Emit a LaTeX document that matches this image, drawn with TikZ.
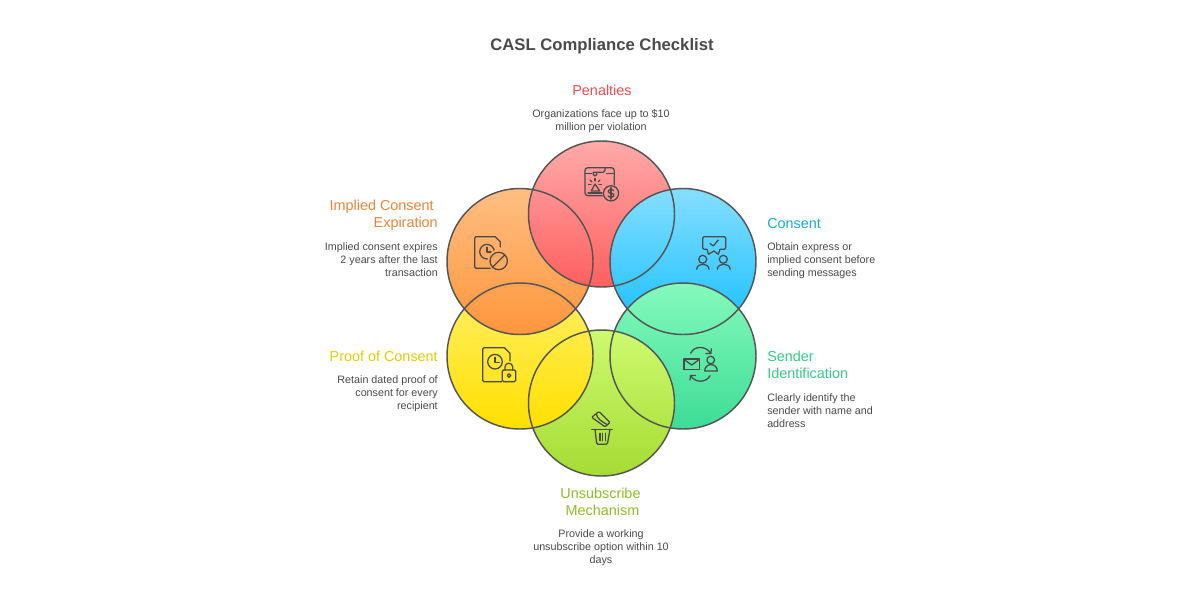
\documentclass[tikz,border=0pt]{standalone}
\usepackage{fontspec}
\setmainfont{Liberation Sans}
\definecolor{ink}{HTML}{4A4A4A}
\definecolor{ring}{HTML}{555555}
\definecolor{hPen}{HTML}{F24D4D}
\definecolor{hCon}{HTML}{1AA9DD}
\definecolor{hSen}{HTML}{33CC88}
\definecolor{hUns}{HTML}{8FBF26}
\definecolor{hPro}{HTML}{E6CC00}
\definecolor{hImp}{HTML}{EC8436}
\tikzset{
  x=0.75pt,y=-0.75pt,
  gPen/.style={top color={rgb,255:red,255;green,170;blue,170},bottom color={rgb,255:red,255;green,95;blue,95}},
  gCon/.style={top color={rgb,255:red,133;green,222;blue,255},bottom color={rgb,255:red,20;green,190;blue,255}},
  gSen/.style={top color={rgb,255:red,133;green,250;blue,188},bottom color={rgb,255:red,60;green,220;blue,150}},
  gUns/.style={top color={rgb,255:red,205;green,250;blue,112},bottom color={rgb,255:red,165;green,220;blue,50}},
  gPro/.style={top color={rgb,255:red,255;green,240;blue,105},bottom color={rgb,255:red,255;green,224;blue,0}},
  gImp/.style={top color={rgb,255:red,255;green,190;blue,130},bottom color={rgb,255:red,255;green,150;blue,60}},
  ringnode/.style={circle,draw=ring,line width=1.1pt,minimum size=109.5pt,inner sep=0pt,fill=none},
  titletext/.style={font=\fontsize{12.5}{15}\selectfont\bfseries,text=ink},
  headtext/.style={font=\fontsize{10.8}{12.8}\selectfont,inner sep=0pt},
  bodytext/.style={font=\fontsize{8.05}{9.8}\selectfont,text=ink,inner sep=0pt},
  icon/.style={draw=ink,line width=0.95pt,line cap=round,line join=round,fill=none},
}
\begin{document}
\begin{tikzpicture}
\useasboundingbox (0,0) rectangle (1200,600);
\fill[white] (0,0) rectangle (1200,600);
% coordinates of circle centres
\coordinate (cPen) at (601.5,214);
\coordinate (cCon) at (683,261.5);
\coordinate (cSen) at (683,356);
\coordinate (cUns) at (601.5,403);
\coordinate (cPro) at (520,356);
\coordinate (cImp) at (520,261.5);
% fills in cyclic stacking
\shade[gImp] (cImp) circle (73);
\shade[gPen] (cPen) circle (73);
\shade[gCon] (cCon) circle (73);
\shade[gSen] (cSen) circle (73);
\shade[gUns] (cUns) circle (73);
\shade[gPro] (cPro) circle (73);
\begin{scope}
  \clip (cPro) circle (73);
  \shade[gImp] (cImp) circle (73);
\end{scope}
% outlines
\node[ringnode] (nPen) at (cPen) {};
\node[ringnode] (nCon) at (cCon) {};
\node[ringnode] (nSen) at (cSen) {};
\node[ringnode] (nUns) at (cUns) {};
\node[ringnode] (nPro) at (cPro) {};
\node[ringnode] (nImp) at (cImp) {};
% texts
\node[titletext] (title) at (602,46.5) {CASL Compliance Checklist};
\node[headtext,text=hPen] (hPenalties) at (602,90) {Penalties};
\node[bodytext,align=center] (bPenalties) at (601,121.5) {Organizations face up to \$10\\million per violation};
\node[headtext,text=hCon,anchor=west] (hConsent) at (767,223.5) {Consent};
\node[bodytext,align=left,anchor=north west] (bConsent) at (767,242.5) {Obtain express or\\implied consent before\\sending messages};
\node[headtext,text=hSen,align=left,anchor=north west] (hSender) at (767,350.5) {Sender\\Identification};
\node[bodytext,align=left,anchor=north west] (bSender) at (767,393) {Clearly identify the\\sender with name and\\address};
\node[headtext,text=hUns,align=center] (hUnsub) at (602.5,501.5) {Unsubscribe~\mbox{}\\Mechanism};
\node[bodytext,align=center] (bUnsub) at (601,548) {Provide a working\\unsubscribe option within 10\\days};
\node[headtext,text=hPro,anchor=east] (hProof) at (438,356) {Proof of Consent};
\node[bodytext,align=right,anchor=north east] (bProof) at (438,375.5) {Retain dated proof of\\consent for every\\recipient};
\node[headtext,text=hImp,align=right,anchor=north east] (hImplied) at (438,200) {Implied Consent~\mbox{}\\Expiration};
\node[bodytext,align=right,anchor=north east] (bImplied) at (438,242.5) {Implied consent expires\\2 years after the last\\transaction};
% Penalties icon
\draw[icon] (602.3,195.7) -- (588,195.7) .. controls (586,195.7) and (585,194.7) .. (585,192.7) -- (585,170.7) .. controls (585,168.7) and (586,167.7) .. (588,167.7) -- (611.3,167.7) .. controls (613.3,167.7) and (614.3,168.7) .. (614.3,170.7) -- (614.3,185);
\draw[icon] (585,173.3) -- (591.7,173.3);
\draw[icon] (606.7,173.3) -- (614.3,173.3);
\draw[icon] (605,167.7) -- (605,170.5) .. controls (605,171.7) and (604.5,172.3) .. (603.3,172.3) -- (596.7,172.3) -- (596.7,174.5) .. controls (596.7,176.5) and (593.3,176.5) .. (593.3,174.5) -- (593.3,172.3) -- (596.7,172.3);
\draw[icon] (595,184) -- (591.2,191) -- (599.8,191) -- cycle;
\draw[icon] (588,193) -- (602,193);
\draw[icon] (595,178.5) -- (595,181);
\draw[icon] (590,180) -- (591.8,181.8);
\draw[icon] (600,180) -- (598.2,181.8);
\draw[icon] (588.5,184.5) -- (591,184.5);
\draw[icon] (601.5,184.5) -- (599,184.5);
\draw[icon] (611,193.3) circle (7.6);
\draw[icon] (613.6,190.6) .. controls (612.6,189) and (608.2,189.2) .. (608.2,191.4) .. controls (608.2,194) and (613.9,192.6) .. (613.9,195.2) .. controls (613.9,197.5) and (609.3,197.6) .. (608.2,196);
\draw[icon] (611,187.6) -- (611,199);
% Consent icon
\draw[icon] (707,249.3) -- (704,249.3) .. controls (703.2,249.3) and (702.7,248.8) .. (702.7,248) -- (702.7,238) .. controls (702.7,237.2) and (703.2,236.7) .. (704,236.7) -- (724.4,236.7) .. controls (725.2,236.7) and (725.7,237.2) .. (725.7,238) -- (725.7,248) .. controls (725.7,248.8) and (725.2,249.3) .. (724.4,249.3) -- (720,249.3) -- (718.3,254.3) -- (713.8,251) -- (708.5,254.3) -- cycle;
\draw[icon] (710,243.3) -- (713.3,246) -- (718.3,240);
\draw[icon] (702.7,259.3) circle (4);
\draw[icon] (696.7,269.3) .. controls (697,262.5) and (708.7,262.5) .. (709,269.3);
\draw[icon] (723.3,259.3) circle (4);
\draw[icon] (717.3,269.3) .. controls (717.6,262.5) and (729.8,262.5) .. (730.2,269.3);
% Sender icon
\draw[icon] (684,359) rectangle (699.3,369.3);
\draw[icon] (684,359.5) -- (691.7,365) -- (699.3,359.5);
\draw[icon] (710.7,360) circle (3.8);
\draw[icon] (704.7,371) .. controls (704.7,362.5) and (717.3,362.5) .. (717.3,371) -- cycle;
\draw[icon] (690.7,353.3) .. controls (694,345.5) and (706,345.5) .. (710.7,353.3);
\draw[icon] (705.8,353.6) -- (710.9,353.6) -- (711.3,348.8);
\draw[icon] (710,375.7) .. controls (706,383) and (695,383) .. (690.7,375.7);
\draw[icon] (695.5,375.4) -- (690.5,375.4) -- (690,380);
% Unsubscribe icon
\draw[icon,rounded corners=0.8pt] (599,411.5) -- (610,422.5) -- (605,426.8) -- (591.7,417.3) -- cycle;
\draw[icon] (596.5,414.5) .. controls (597.5,419) and (601,421) .. (607.5,424.8);
\draw[icon] (591.7,429.3) -- (612.3,429.3);
\draw[icon] (595,429.3) -- (596.6,443) .. controls (596.8,444) and (597.2,444.3) .. (598,444.3) -- (606,444.3) .. controls (607,444.3) and (607.4,444) .. (607.6,443) -- (610,429.3);
\draw[icon] (600,433.3) -- (600,440.7);
\draw[icon] (602.7,433.3) -- (602.7,440.7);
\draw[icon] (605.3,433.3) -- (605.3,440.7);
% Proof icon
\draw[icon] (501.7,381.7) -- (484,381.7) .. controls (483.2,381.7) and (482.7,381.2) .. (482.7,380.4) -- (482.7,349) .. controls (482.7,348.2) and (483.2,347.7) .. (484,347.7) -- (504.3,347.7) -- (510,353.3) -- (510,361);
\draw[icon] (495,361.7) circle (7.3);
\draw[icon] (495,357.3) -- (495,362.3) -- (499.3,362.3);
\draw[icon,rounded corners=1pt] (502.3,370) rectangle (515.7,381.7);
\draw[icon] (505,370) -- (505,367) .. controls (505,362) and (512.7,362) .. (512.7,367) -- (512.7,370);
\draw[icon] (509,375.5) circle (1.8);
% Implied icon
\draw[icon] (490.3,268.3) -- (476,268.3) .. controls (475.2,268.3) and (474.7,267.8) .. (474.7,267) -- (474.7,238) .. controls (474.7,237.2) and (475.2,236.7) .. (476,236.7) -- (495.3,236.7) -- (500.3,241.7) -- (500.3,247);
\begin{scope}[even odd rule]
  \clip (470,230) rectangle (510,275) (498.7,261) circle (11.5);
  \draw[icon] (487,251.7) circle (7.3);
\end{scope}
\draw[icon] (487,247.3) -- (487,252) -- (491,252);
\draw[icon] (498.7,261) circle (8.7);
\draw[icon] (492.7,267) -- (504.7,255);
\end{tikzpicture}
\end{document}
